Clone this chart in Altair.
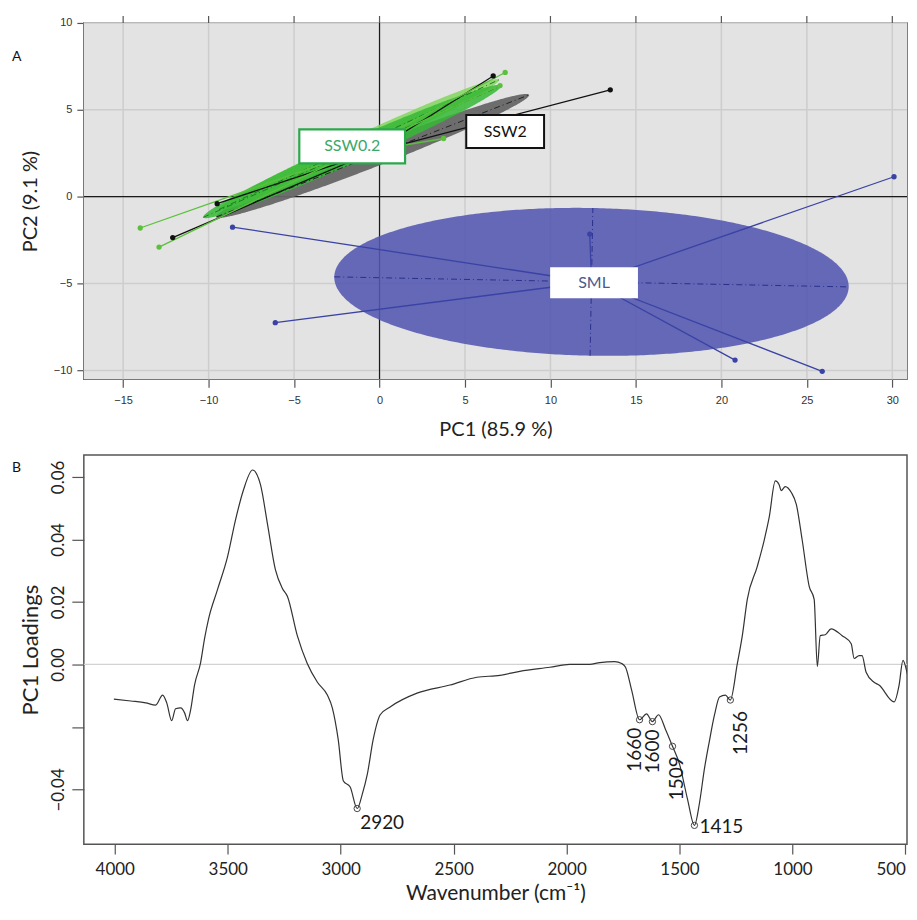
import altair as alt
import numpy as np
import pandas as pd

# ---------------- Panel A : PCA score plot ----------------
sml_pc1 = [-8.6, -6.1, 12.3, 20.8, 25.9, 30.1]
sml_pc2 = [-1.75, -7.25, -2.15, -9.4, -10.05, 1.15]
ssw2_pc1 = [-9.5, -12.1, 6.65, 13.5]
ssw2_pc2 = [-0.4, -2.35, 6.95, 6.15]
ssw02_pc1 = [-14.0, -12.9, 7.35, 7.05, 3.75]
ssw02_pc2 = [-1.8, -2.9, 7.15, 6.4, 3.35]

group_names = ["SML", "SSW2", "SSW0.2"]
group_colors = ["#3a42a4", "#111111", "#5cc03c"]

# confidence ellipses: centre, semi-axes, rotation (deg)
ell_name = ["SML", "SSW2", "SSW0.2 light", "SSW0.2"]
ell_cx = [12.4, -0.4, -1.2, -1.6]
ell_cy = [-4.9, 2.35, 3.0, 2.6]
ell_a = [15.05, 9.8, 9.0, 9.5]
ell_b = [4.25, 0.65, 0.55, 0.65]
ell_ang = [-1.1, 21.0, 24.5, 23.5]
ell_fill = ["#5257b0", "#666666", "#82d65e", "#35b935"]
ell_opacity = [0.88, 0.95, 0.85, 0.85]
ell_axis_color = ["#2a2f8c", "#222222", "#1f7a1f", "#1f7a1f"]

label_text = ["SML", "SSW2", "SSW0.2"]
label_pc1 = [12.55, 7.35, -1.6]
label_pc2 = [-4.95, 3.75, 2.9]

# ---------------- Panel B : PC1 loadings ----------------
wavenumber = [4004, 3929, 3863, 3819, 3788, 3770, 3748, 3731, 3708, 3691, 3678, 3664,
              3647, 3620, 3602, 3585, 3545, 3501, 3466, 3430, 3390, 3355, 3324, 3289,
              3258, 3236, 3192, 3148, 3103, 3059, 3037, 3011, 2988, 2958, 2927, 2904,
              2882, 2856, 2825, 2781, 2662, 2516, 2397, 2295, 2207, 2074, 1986, 1898,
              1853, 1787, 1756, 1739, 1712, 1677, 1646, 1620, 1593, 1562, 1531, 1500,
              1465, 1434, 1412, 1390, 1368, 1345, 1323, 1297, 1275, 1244, 1222, 1200,
              1156, 1125, 1103, 1076, 1059, 1050, 1032, 1005, 983, 957, 926, 904,
              890, 877, 855, 829, 780, 740, 727, 705, 692, 674, 639, 617, 550, 528,
              511, 493, 480]
loading = [-0.0111, -0.0117, -0.0123, -0.0130, -0.0098, -0.0123, -0.0180, -0.0142,
           -0.0139, -0.0155, -0.0180, -0.0145, -0.0066, 0.0006, 0.0085, 0.0145,
           0.0240, 0.0344, 0.0461, 0.0559, 0.0622, 0.0575, 0.0449, 0.0303,
           0.0243, 0.0218, 0.0092, 0.0003, -0.0057, -0.0098, -0.0139, -0.0240,
           -0.0373, -0.0392, -0.0461, -0.0414, -0.0351, -0.0240, -0.0161, -0.0136,
           -0.0092, -0.0066, -0.0041, -0.0035, -0.0022, -0.0009, 0.0000, 0.0000,
           0.0006, 0.0009, 0.0003, -0.0009, -0.0082, -0.0177, -0.0158, -0.0183,
           -0.0161, -0.0208, -0.0262, -0.0319, -0.0430, -0.0515, -0.0445, -0.0335,
           -0.0246, -0.0161, -0.0104, -0.0098, -0.0114, 0.0003, 0.0092, 0.0208,
           0.0313, 0.0398, 0.0471, 0.0587, 0.0575, 0.0556, 0.0569, 0.0550,
           0.0512, 0.0398, 0.0250, 0.0208, -0.0006, 0.0092, 0.0095, 0.0114,
           0.0092, 0.0066, 0.0019, 0.0028, 0.0028, -0.0025, -0.0057, -0.0066,
           -0.0120, -0.0066, 0.0013, -0.0025, -0.0066]

peak_wn = [2927, 1677, 1620, 1531, 1434, 1275]
peak_val = [-0.0461, -0.0177, -0.0183, -0.0262, -0.0515, -0.0114]
peak_label = ["2920", "1660", "1600", "1509", "1415", "1256"]
# label styling: angle, align, dx, dy
peak_style = [(0, "left", 3, 15), (-90, "right", -8, -5), (-90, "right", -8, 1),
              (-90, "right", -10, 4), (0, "left", 5, 2), (-90, "right", -11, 11)]

TITLE_FONT = "Lato"
NARROW = "Liberation Sans Narrow, Liberation Sans, Arial"
WA, HA = 825, 357
WB, HB = 825, 390
XA_DOM = [-17.3, 30.86]
YA_DOM = [-10.5, 10.0]
XB_DOM = [4137, 493]

# ====================== build panel A ======================
score_rows = []
for g, xs, ys in zip(group_names, [sml_pc1, ssw2_pc1, ssw02_pc1], [sml_pc2, ssw2_pc2, ssw02_pc2]):
    for x, y in zip(xs, ys):
        score_rows.append({"group": g, "pc1": x, "pc2": y})
scores = pd.DataFrame(score_rows)

xs_a = alt.Scale(domain=XA_DOM, nice=False, zero=False)
ys_a = alt.Scale(domain=YA_DOM, nice=False, zero=False)
ticks_x = [-15, -10, -5, 0, 5, 10, 15, 20, 25, 30]
ticks_y = [-10, -5, 0, 5, 10]
col_scale = alt.Scale(domain=group_names, range=group_colors)

zero_df = pd.DataFrame({"pc1": [0.0], "pc2": [0.0]})
tickx_df = pd.DataFrame({"pc1": ticks_x})
ticky_df = pd.DataFrame({"pc2": ticks_y})
bg_df = pd.DataFrame({"pc1": [XA_DOM[0]], "pc1e": [XA_DOM[1]], "pc2": [YA_DOM[0]], "pc2e": [YA_DOM[1]]})

x_axis_a = alt.Axis(values=ticks_x, grid=False,
                    domain=False, tickSize=8, tickColor="#555555", tickWidth=1.2,
                    labelFont=NARROW, labelFontSize=11, labelColor="#333333",
                    labelPadding=7, labelOverlap=False, labelFlush=False,
                    title="PC1 (85.9 %)", titleFont=TITLE_FONT, titleFontSize=20,
                    titleFontWeight="normal", titleColor="#222222", titlePadding=14)
y_axis_a = alt.Axis(values=ticks_y, grid=False,
                    domain=False, tickSize=7, tickColor="#555555", tickWidth=1.2,
                    labelFont=NARROW, labelFontSize=11, labelColor="#333333",
                    labelPadding=5, labelOverlap=False, labelFlush=False,
                    title="PC2 (9.1 %)", titleFont=TITLE_FONT, titleFontSize=20,
                    titleFontWeight="normal", titleColor="#222222", titlePadding=13)

X = lambda f="pc1": alt.X(f + ":Q", scale=xs_a)
Y = lambda f="pc2", **kw: alt.Y(f + ":Q", scale=ys_a, **kw)

bg_a = alt.Chart(bg_df).mark_rect(color="#e3e3e3").encode(
    x=alt.X("pc1:Q", scale=xs_a, axis=x_axis_a), x2="pc1e:Q",
    y=alt.Y("pc2:Q", scale=ys_a, axis=y_axis_a), y2="pc2e:Q")
grid_v = alt.Chart(tickx_df).mark_rule(color="#cdcdcd", strokeWidth=1.5).encode(
    x=X(), y=alt.value(0), y2=alt.value(HA))
grid_h = alt.Chart(ticky_df).mark_rule(color="#cdcdcd", strokeWidth=1.5).encode(
    y=Y(), x=alt.value(0), x2=alt.value(WA))
vzero = alt.Chart(zero_df).mark_rule(color="#1a1a1a", strokeWidth=1.2).encode(
    x=X(), y=alt.value(0), y2=alt.value(HA))
hzero = alt.Chart(zero_df).mark_rule(color="#1a1a1a", strokeWidth=1.2).encode(
    y=Y(), x=alt.value(0), x2=alt.value(WA))
top_ticks = alt.Chart(tickx_df).mark_rule(color="#555555", strokeWidth=1.2).encode(
    x=X(), y=alt.value(-7), y2=alt.value(0))


def ellipse_outline(cx, cy, a, b, ang_deg, n=240):
    t = np.radians(ang_deg)
    c, s = np.cos(t), np.sin(t)
    qa = s * s / a ** 2 + c * c / b ** 2
    half = np.sqrt(a * a * c * c + b * b * s * s)
    u = np.linspace(0, np.pi, n)
    dx = -half * np.cos(u)
    qb = 2 * dx * (c * s / a ** 2 - s * c / b ** 2)
    qc = dx ** 2 * (c * c / a ** 2 + s * s / b ** 2) - 1
    disc = np.sqrt(np.clip(qb ** 2 - 4 * qa * qc, 0, None))
    return pd.DataFrame({"pc1": cx + dx,
                         "pc2": cy + (-qb + disc) / (2 * qa),
                         "bot": cy + (-qb - disc) / (2 * qa)})


ell_layers = []
axis_rows = []
for i in range(len(ell_name)):
    df = ellipse_outline(ell_cx[i], ell_cy[i], ell_a[i], ell_b[i], ell_ang[i])
    ell_layers.append(
        alt.Chart(df).mark_area(color=ell_fill[i], opacity=ell_opacity[i]).encode(
            x=X(), y=Y(stack=None), y2="bot:Q"))
    t = np.radians(ell_ang[i])
    c, s = np.cos(t), np.sin(t)
    axis_rows.append({"k": i, "pc1": ell_cx[i] - ell_a[i] * c, "pc2": ell_cy[i] - ell_a[i] * s,
                      "e1": ell_cx[i] + ell_a[i] * c, "e2": ell_cy[i] + ell_a[i] * s})
    if i == 0:
        axis_rows.append({"k": i, "pc1": ell_cx[i] + ell_b[i] * s, "pc2": ell_cy[i] - ell_b[i] * c,
                          "e1": ell_cx[i] - ell_b[i] * s, "e2": ell_cy[i] + ell_b[i] * c})
axes_df = pd.DataFrame(axis_rows)
axes_df["col"] = [ell_axis_color[k] for k in axes_df["k"]]

ell_axes = alt.Chart(axes_df).mark_rule(strokeDash=[6, 3, 1, 3], strokeWidth=1).encode(
    x=X(), y=Y(), x2="e1:Q", y2="e2:Q",
    color=alt.Color("col:N", scale=None, legend=None))

star = alt.Chart(scores).transform_joinaggregate(
    cx="mean(pc1)", cy="mean(pc2)", groupby=["group"]
).mark_rule(strokeWidth=1.3).encode(
    x=X(), y=Y(), x2="cx:Q", y2="cy:Q",
    color=alt.Color("group:N", scale=col_scale, legend=None))

pts = alt.Chart(scores).mark_circle(size=28, opacity=1).encode(
    x=X(), y=Y(), color=alt.Color("group:N", scale=col_scale, legend=None))

lab_df = pd.DataFrame({"label": label_text, "pc1": label_pc1, "pc2": label_pc2})
box_specs = {"SML": ("M-44,-15.5H44V15.5H-44Z", "#ffffff", 0),
             "SSW2": ("M-39,-16.5H39V16.5H-39Z", "#111111", 2),
             "SSW0.2": ("M-53,-17H53V17H-53Z", "#2aa84a", 2.2)}
text_colors = {"SML": "#4a5a8c", "SSW2": "#111111", "SSW0.2": "#3aa86a"}
box_layers = []
for name in label_text:
    path, stroke, sw = box_specs[name]
    sub = lab_df[lab_df["label"] == name]
    box_layers.append(alt.Chart(sub).mark_point(
        shape=path, size=4, filled=True, fill="white", fillOpacity=1,
        stroke=stroke, strokeWidth=sw, strokeOpacity=1 if sw else 0, opacity=1).encode(
        x=X(), y=Y()))
    box_layers.append(alt.Chart(sub).mark_text(
        font=TITLE_FONT, fontSize=16, color=text_colors[name], baseline="middle",
        align="center").encode(x=X(), y=Y(), text="label:N"))

tag_a = alt.Chart(pd.DataFrame({"t": ["A"]})).mark_text(
    font=TITLE_FONT, fontSize=14, align="left", baseline="middle", color="#111111").encode(
    x=alt.value(-72), y=alt.value(34), text="t:N")

panel_a = alt.layer(bg_a, grid_v, grid_h, vzero, hzero, top_ticks, *ell_layers, ell_axes,
                    star, pts, *box_layers, tag_a).properties(width=WA, height=HA)

# ====================== build panel B ======================
spec = pd.DataFrame({"wn": wavenumber, "load": loading})
peaks = pd.DataFrame({"wn": peak_wn, "load": peak_val, "label": peak_label})

xs_b = alt.Scale(domain=XB_DOM, nice=False, zero=False)
ys_b = alt.Scale(domain=[-0.0575, 0.067], nice=False, zero=False)

x_axis_b = alt.Axis(values=[4000, 3500, 3000, 2500, 2000, 1500, 1000, 500], grid=False,
                    format="d",
                    labelAlign={"condition": {"test": "datum.value <= 500", "value": "right"},
                                "value": "center"},
                    domain=False, tickSize=10, tickColor="#555555", tickWidth=1.2,
                    labelFont=TITLE_FONT, labelFontSize=17, labelColor="#222222",
                    labelPadding=7, labelOverlap=False, labelFlush=False,
                    title="Wavenumber (cm\u207b\u00b9)", titleFont=TITLE_FONT, titleFontSize=21,
                    titleFontWeight="normal", titleColor="#222222", titlePadding=5)
y_axis_b = alt.Axis(values=[-0.04, -0.02, 0.0, 0.02, 0.04, 0.06], grid=False,
                    domain=False, tickSize=12, tickColor="#555555", tickWidth=1.2,
                    labelExpr="abs(datum.value + 0.02) < 1e-9 ? '' : format(datum.value, '.2f')",
                    labelAngle=-90, labelAlign="center", labelBaseline="bottom",
                    labelFont=TITLE_FONT, labelFontSize=17, labelColor="#222222",
                    labelPadding=4, labelOverlap=False, labelFlush=False,
                    title="PC1 Loadings", titleFont=TITLE_FONT, titleFontSize=22,
                    titleFontWeight="normal", titleColor="#222222", titlePadding=7)

XB = lambda: alt.X("wn:Q", scale=xs_b)
YB = lambda: alt.Y("load:Q", scale=ys_b)

line_b = alt.Chart(spec).mark_line(color="#333333", strokeWidth=1.2, interpolate="monotone",
                                   clip=True).encode(
    x=alt.X("wn:Q", scale=xs_b, axis=x_axis_b),
    y=alt.Y("load:Q", scale=ys_b, axis=y_axis_b),
    order="wn:Q")
zero_b = alt.Chart(pd.DataFrame({"load": [0.0]})).mark_rule(color="#d2d2d2", strokeWidth=1.2).encode(
    y=YB(), x=alt.value(0), x2=alt.value(WB))
circ_b = alt.Chart(peaks).mark_point(shape="circle", size=40, color="#444444", strokeWidth=1,
                                     filled=False, opacity=1).encode(x=XB(), y=YB())
lab_layers = []
for i, lbl in enumerate(peak_label):
    ang, al, dx, dy = peak_style[i]
    lab_layers.append(alt.Chart(peaks[peaks["label"] == lbl]).mark_text(
        font=TITLE_FONT, fontSize=19, color="#1a1a1a", angle=(360 + ang) % 360, align=al,
        baseline="middle", dx=dx, dy=dy).encode(x=XB(), y=YB(), text="label:N"))
tag_b = alt.Chart(pd.DataFrame({"t": ["B"]})).mark_text(
    font=TITLE_FONT, fontSize=14, align="left", baseline="middle", color="#111111").encode(
    x=alt.value(-72), y=alt.value(13), text="t:N")

panel_b = alt.layer(zero_b, line_b, circ_b, *lab_layers, tag_b).properties(
    width=WB, height=HB)

chart = alt.vconcat(panel_a, panel_b, spacing=14).properties(
    padding={"left": 3, "top": 5, "right": 0, "bottom": 0}
).configure(background="white").configure_view(stroke="#555555", strokeWidth=1.5)

chart.save("out.html", embed_options={"renderer": "svg", "actions": False})
